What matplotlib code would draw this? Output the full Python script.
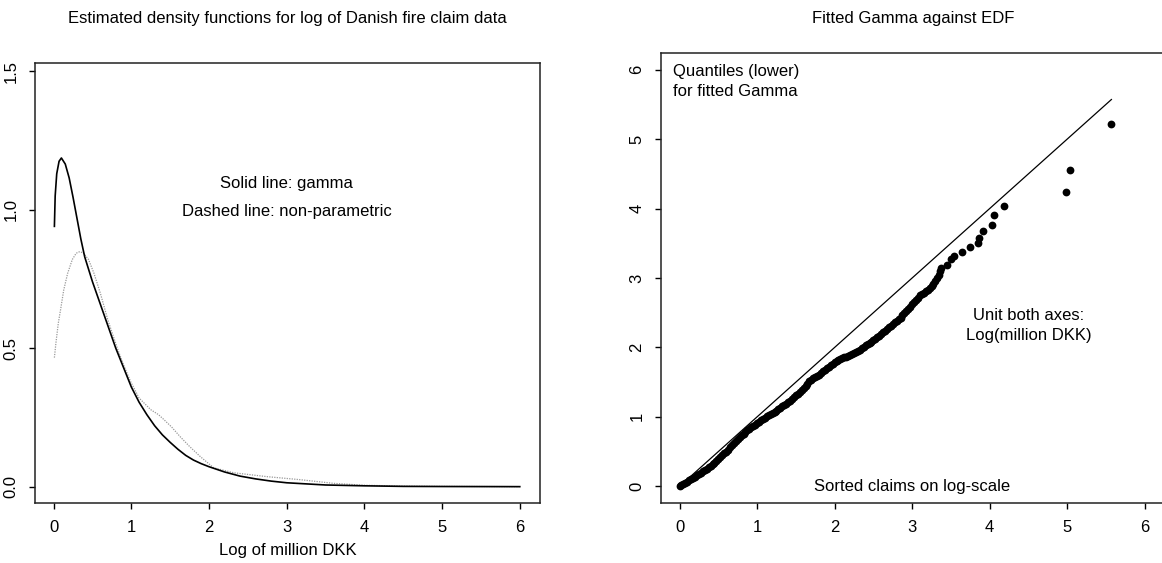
import matplotlib
matplotlib.use("Agg")
import matplotlib.pyplot as plt

plt.rcParams['font.family'] = ['Liberation Sans', 'DejaVu Sans']

# left panel: density estimates
gamma_x = [0.01, 0.02, 0.04, 0.07, 0.10, 0.15, 0.20, 0.25, 0.30, 0.35, 0.40, 0.50,
           0.60, 0.70, 0.80, 0.90, 1.00, 1.10, 1.20, 1.30, 1.40, 1.50, 1.60, 1.70,
           1.80, 1.90, 2.00, 2.20, 2.40, 2.60, 2.80, 3.00, 3.50, 4.00, 4.50, 5.00, 6.00]
gamma_y = [0.94, 1.05, 1.13, 1.175, 1.187, 1.165, 1.115, 1.045, 0.97, 0.895, 0.83, 0.74,
           0.66, 0.58, 0.50, 0.43, 0.36, 0.305, 0.26, 0.22, 0.187, 0.16, 0.135, 0.113,
           0.096, 0.083, 0.072, 0.053, 0.038, 0.028, 0.020, 0.014, 0.006, 0.003, 0.001, 0.0005, 0.0]

kde_x = [0.01, 0.03, 0.06, 0.09, 0.13, 0.18, 0.24, 0.29, 0.33, 0.38, 0.45, 0.52, 0.60,
         0.70, 0.82, 0.90, 0.99, 1.10, 1.25, 1.35, 1.42, 1.52, 1.63, 1.75, 1.89, 2.06,
         2.32, 2.75, 3.18, 3.60, 4.00, 4.50, 5.00, 6.00]
kde_y = [0.466, 0.52, 0.59, 0.64, 0.71, 0.77, 0.82, 0.843, 0.848, 0.845, 0.82, 0.77, 0.70,
         0.60, 0.50, 0.44, 0.38, 0.32, 0.278, 0.26, 0.242, 0.215, 0.18, 0.145, 0.108, 0.068,
         0.05, 0.036, 0.025, 0.012, 0.005, 0.002, 0.001, 0.0]

# right panel: sorted log-claims against fitted gamma quantiles
claims = [0.000, 0.025, 0.050, 0.075, 0.100, 0.125, 0.150, 0.175, 0.200, 0.225,
          0.250, 0.275, 0.300, 0.325, 0.350, 0.375, 0.400, 0.425, 0.450, 0.475,
          0.500, 0.525, 0.550, 0.575, 0.600, 0.625, 0.650, 0.675, 0.700, 0.725,
          0.750, 0.775, 0.800, 0.825, 0.850, 0.875, 0.900, 0.925, 0.950, 0.975,
          1.000, 1.025, 1.050, 1.075, 1.100, 1.125, 1.150, 1.175, 1.200, 1.225,
          1.250, 1.275, 1.300, 1.325, 1.350, 1.375, 1.400, 1.425, 1.450, 1.475,
          1.500, 1.525, 1.550, 1.575, 1.600, 1.625, 1.650, 1.675, 1.700, 1.725,
          1.750, 1.775, 1.800, 1.825, 1.850, 1.875, 1.900, 1.925, 1.950, 1.975,
          2.000, 2.025, 2.050, 2.075, 2.100, 2.125, 2.150, 2.175, 2.200, 2.225,
          2.250, 2.275, 2.300, 2.325, 2.350, 2.375, 2.400, 2.425, 2.450, 2.475,
          2.500, 2.525, 2.550, 2.575, 2.600, 2.625, 2.650, 2.675, 2.700, 2.725,
          2.750, 2.775, 2.800, 2.825, 2.850, 2.875, 2.900, 2.925, 2.950, 2.975,
          3.000, 3.025, 3.050, 3.075, 3.100, 3.125, 3.150, 3.175, 3.200, 3.225,
          3.250, 3.275, 3.300, 3.320, 3.340, 3.355, 3.370,
          3.45, 3.50, 3.54, 3.64, 3.74, 3.85, 3.86, 3.91, 4.03, 4.05, 4.19,
          4.98, 5.04, 5.57]
quantiles = [0.000, 0.015, 0.030, 0.048, 0.067, 0.087, 0.105, 0.122, 0.140, 0.158,
             0.177, 0.197, 0.216, 0.235, 0.255, 0.277, 0.298, 0.318, 0.340, 0.363,
             0.390, 0.418, 0.445, 0.473, 0.500, 0.530, 0.560, 0.590, 0.620, 0.650,
             0.680, 0.710, 0.735, 0.760, 0.785, 0.805, 0.830, 0.850, 0.870, 0.890,
             0.910, 0.930, 0.950, 0.970, 0.990, 1.010, 1.030, 1.045, 1.060, 1.075,
             1.090, 1.110, 1.130, 1.150, 1.170, 1.190, 1.210, 1.235, 1.260, 1.285,
             1.310, 1.335, 1.360, 1.390, 1.420, 1.450, 1.480, 1.510, 1.535, 1.555,
             1.570, 1.590, 1.610, 1.630, 1.655, 1.680, 1.705, 1.725, 1.745, 1.765,
             1.785, 1.800, 1.815, 1.830, 1.845, 1.855, 1.865, 1.875, 1.885, 1.900,
             1.920, 1.935, 1.955, 1.970, 1.990, 2.010, 2.030, 2.045, 2.060, 2.080,
             2.100, 2.125, 2.150, 2.170, 2.190, 2.215, 2.240, 2.265, 2.290, 2.315,
             2.340, 2.360, 2.380, 2.405, 2.430, 2.460, 2.490, 2.520, 2.550, 2.585,
             2.620, 2.650, 2.680, 2.715, 2.750, 2.770, 2.790, 2.810, 2.830, 2.850,
             2.880, 2.920, 2.960, 3.000, 3.050, 3.100, 3.140,
             3.19, 3.28, 3.32, 3.38, 3.44, 3.51, 3.58, 3.67, 3.76, 3.90, 4.04,
             4.24, 4.55, 5.22]
ref_line = [0.0, 5.57]

fs = 12

fig = plt.figure(figsize=(11.62, 5.63), dpi=100)
ax1 = fig.add_axes([0.0301, 0.1066, 0.4346, 0.7815])
ax2 = fig.add_axes([0.5688, 0.1066, 0.4337, 0.7993])

for ax in (ax1, ax2):
    ax.tick_params(direction='out', length=4, width=1, labelsize=fs, pad=8)
    for s in ax.spines.values():
        s.set_linewidth(1.1)
        s.set_color('#222222')
    ax.set_xticks(range(7))
    ax.set_xlim(-0.24, 6.26)

# left panel
ax1.plot(kde_x, kde_y, color='#999999', linestyle=(0, (1, 1)), linewidth=0.9)
ax1.plot(gamma_x, gamma_y, color='black', linewidth=1.2)
ax1.set_ylim(-0.059, 1.53)
ax1.set_yticks([0.0, 0.5, 1.0, 1.5])
ax1.set_yticklabels(['0.0', '0.5', '1.0', '1.5'], rotation=90, va='center')
ax1.text(3.0, 1.094, 'Solid line: gamma', ha='center', va='center', fontsize=fs)
ax1.text(3.0, 0.993, 'Dashed line: non-parametric', ha='center', va='center', fontsize=fs)
ax1.set_xlabel('Log of million DKK', fontsize=fs, labelpad=6)
fig.text(0.247, 0.968, 'Estimated density functions for log of Danish fire claim data',
         ha='center', va='center', fontsize=fs)

# right panel
ax2.plot(ref_line, ref_line, color='black', linewidth=0.9)
ax2.plot(claims, quantiles, 'o', color='black', markersize=5.6, markeredgewidth=0)
ax2.set_ylim(-0.24, 6.24)
ax2.set_yticks(range(7))
ax2.set_yticklabels([str(i) for i in range(7)], rotation=90, va='center')
ax2.text(-0.09, 6.08, 'Quantiles (lower)\nfor fitted Gamma', ha='left', va='top',
         fontsize=fs, linespacing=1.4)
ax2.text(4.5, 2.32, 'Unit both axes:\nLog(million DKK)', ha='center', va='center',
         fontsize=fs, linespacing=1.4)
ax2.text(3.0, 0.0, 'Sorted claims on log-scale', ha='center', va='center', fontsize=fs)
fig.text(0.786, 0.968, 'Fitted Gamma against EDF', ha='center', va='center', fontsize=fs)

fig.savefig('out.png', dpi=100)
